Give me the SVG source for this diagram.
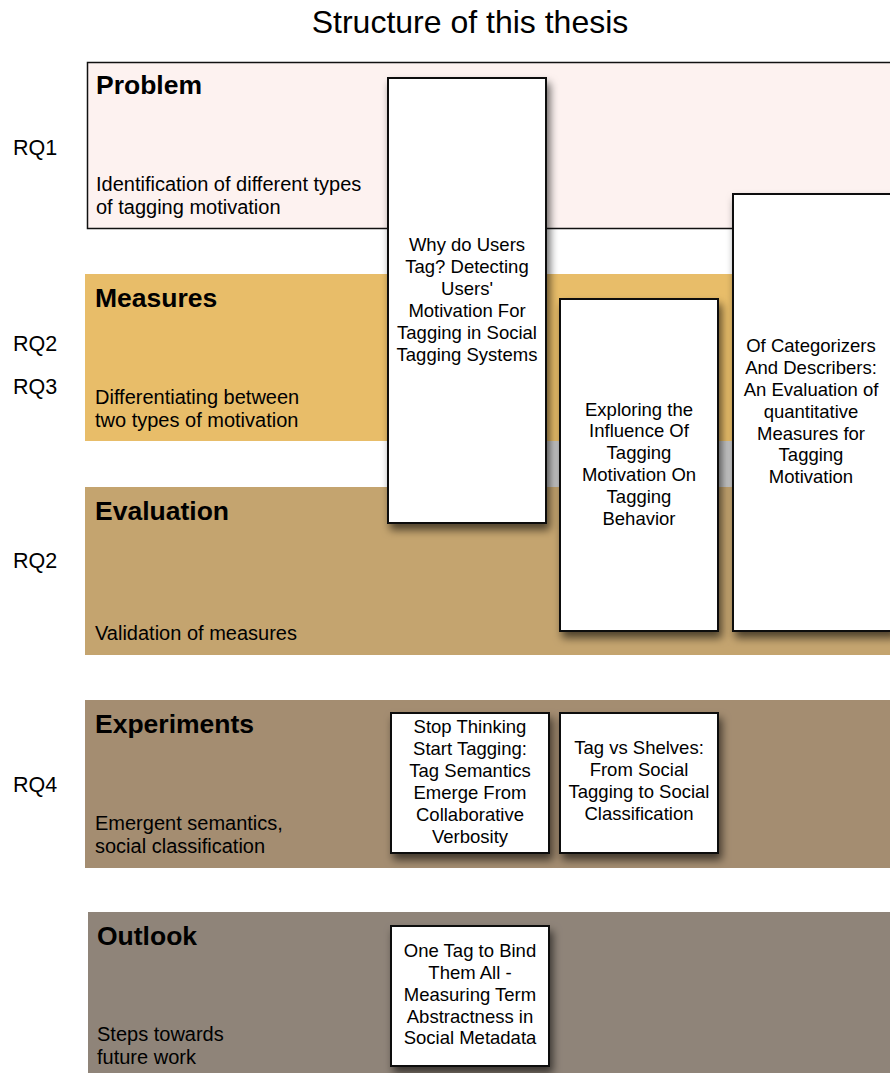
<svg xmlns="http://www.w3.org/2000/svg" width="890" height="1073" viewBox="0 0 890 1073">
  <defs>
    <filter id="shadow" x="-10%" y="-10%" width="130%" height="130%">
      <feDropShadow dx="3" dy="6" stdDeviation="4" flood-color="#000" flood-opacity="0.6"/>
    </filter>
  </defs>
  <style>
    text { font-family: "Liberation Sans", Arial, Helvetica, sans-serif; fill: #000; }
    .title { font-size: 32px; }
    .rq { font-size: 21.5px; }
    .head { font-size: 26.5px; font-weight: bold; }
    .desc { font-size: 20px; }
    .paper rect { fill: #fff; stroke: #111; stroke-width: 2; filter: url(#shadow); }
    .paper text { font-size: 18.5px; text-anchor: middle; }
  </style>

  <rect width="890" height="1073" fill="#fff"/>

  <text class="title" x="470" y="33" text-anchor="middle">Structure of this thesis</text>

  <!-- research question labels -->
  <g id="rq-labels">
    <text class="rq" x="13" y="155">RQ1</text>
    <text class="rq" x="13" y="351">RQ2</text>
    <text class="rq" x="13" y="394">RQ3</text>
    <text class="rq" x="13" y="568">RQ2</text>
    <text class="rq" x="13" y="792">RQ4</text>
  </g>

  <!-- horizontal bands -->
  <g id="band-problem">
    <rect x="87.5" y="62.5" width="810" height="166" fill="#fdf2f0" stroke="#111" stroke-width="1.5"/>
    <text class="head" x="96" y="94">Problem</text>
    <text class="desc" x="96" y="191">Identification of different types</text>
    <text class="desc" x="96" y="214">of tagging motivation</text>
  </g>

  <g id="band-measures">
    <rect x="85" y="274" width="660" height="167" fill="#e8bd69"/>
    <text class="head" x="95" y="307">Measures</text>
    <text class="desc" x="95" y="404">Differentiating between</text>
    <text class="desc" x="95" y="427">two types of motivation</text>
  </g>

  <rect id="gap-strip" x="547" y="441" width="190" height="46" fill="#c6c6c6"/>

  <g id="band-evaluation">
    <rect x="85" y="487" width="805" height="168" fill="#c4a46f"/>
    <text class="head" x="95" y="520">Evaluation</text>
    <text class="desc" x="95" y="640">Validation of measures</text>
  </g>

  <g id="band-experiments">
    <rect x="85" y="700" width="805" height="168" fill="#a48d71"/>
    <text class="head" x="95" y="733">Experiments</text>
    <text class="desc" x="95" y="830">Emergent semantics,</text>
    <text class="desc" x="95" y="853">social classification</text>
  </g>

  <g id="band-outlook">
    <rect x="88" y="912" width="802" height="161" fill="#8f8479"/>
    <text class="head" x="97" y="945">Outlook</text>
    <text class="desc" x="97" y="1041">Steps towards</text>
    <text class="desc" x="97" y="1064">future work</text>
  </g>

  <!-- publications -->
  <g id="paper-why-tag" class="paper">
    <rect x="388" y="78" width="158" height="445"/>
    <text x="467" y="251">Why do Users</text>
    <text x="467" y="273">Tag? Detecting</text>
    <text x="467" y="295">Users'</text>
    <text x="467" y="317">Motivation For</text>
    <text x="467" y="339">Tagging in Social</text>
    <text x="467" y="361">Tagging Systems</text>
  </g>

  <g id="paper-influence" class="paper">
    <rect x="560" y="299" width="158" height="332"/>
    <text x="639" y="416">Exploring the</text>
    <text x="639" y="437">Influence Of</text>
    <text x="639" y="459">Tagging</text>
    <text x="639" y="481">Motivation On</text>
    <text x="639" y="503">Tagging</text>
    <text x="639" y="525">Behavior</text>
  </g>

  <g id="paper-categorizers" class="paper">
    <rect x="733" y="194" width="160" height="437"/>
    <text x="811" y="352">Of Categorizers</text>
    <text x="811" y="374">And Describers:</text>
    <text x="811" y="396">An Evaluation of</text>
    <text x="811" y="418">quantitative</text>
    <text x="811" y="440">Measures for</text>
    <text x="811" y="461">Tagging</text>
    <text x="811" y="483">Motivation</text>
  </g>

  <g id="paper-stop-thinking" class="paper">
    <rect x="391" y="713" width="158" height="140"/>
    <text x="470" y="733">Stop Thinking</text>
    <text x="470" y="755">Start Tagging:</text>
    <text x="470" y="777">Tag Semantics</text>
    <text x="470" y="799">Emerge From</text>
    <text x="470" y="821">Collaborative</text>
    <text x="470" y="843">Verbosity</text>
  </g>

  <g id="paper-shelves" class="paper">
    <rect x="560" y="713" width="158" height="140"/>
    <text x="639" y="754">Tag vs Shelves:</text>
    <text x="639" y="776">From Social</text>
    <text x="639" y="798">Tagging to Social</text>
    <text x="639" y="820">Classification</text>
  </g>

  <g id="paper-one-tag" class="paper">
    <rect x="391" y="926" width="158" height="140"/>
    <text x="470" y="957">One Tag to Bind</text>
    <text x="470" y="979">Them All -</text>
    <text x="470" y="1001">Measuring Term</text>
    <text x="470" y="1023">Abstractness in</text>
    <text x="470" y="1044">Social Metadata</text>
  </g>

  <!-- no connectors in this figure -->
  <g id="connectors"/>
</svg>
